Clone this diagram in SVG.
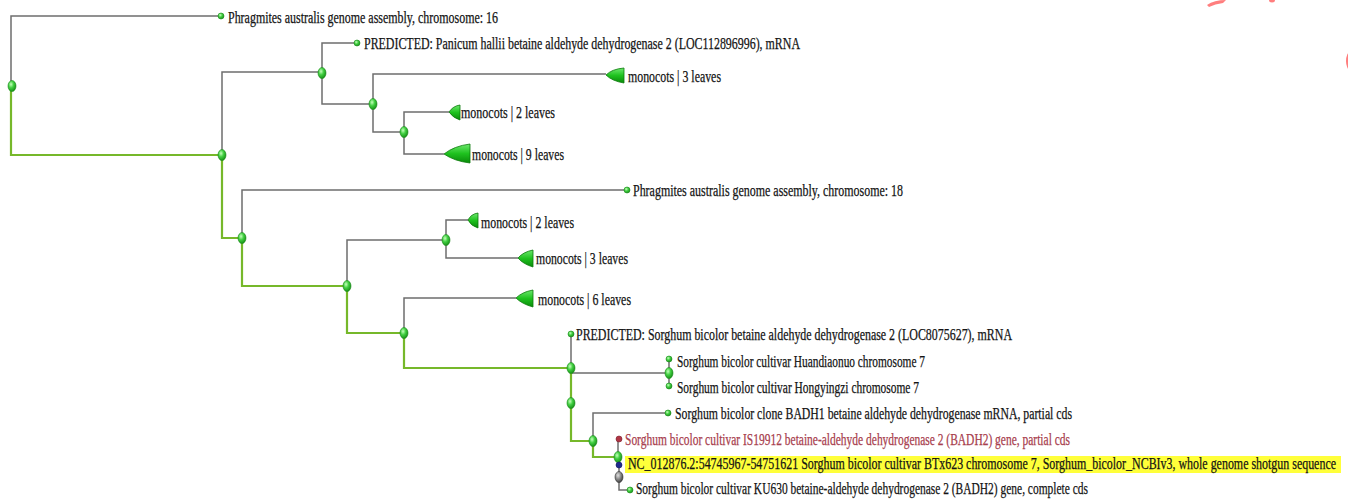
<svg xmlns="http://www.w3.org/2000/svg" width="1348" height="502" viewBox="0 0 1348 502">
<defs>
<radialGradient id="ng" cx="0.38" cy="0.35" r="0.7">
<stop offset="0" stop-color="#c6ffbc"/>
<stop offset="0.45" stop-color="#43d043"/>
<stop offset="1" stop-color="#138c13"/>
</radialGradient>
<radialGradient id="gg" cx="0.38" cy="0.35" r="0.7">
<stop offset="0" stop-color="#e0e0e0"/>
<stop offset="0.5" stop-color="#8a8a8a"/>
<stop offset="1" stop-color="#3c3c3c"/>
</radialGradient>
<linearGradient id="tg" x1="0" y1="0" x2="0" y2="1">
<stop offset="0" stop-color="#6ee86e"/>
<stop offset="0.5" stop-color="#1fc21f"/>
<stop offset="1" stop-color="#0a8a0a"/>
</linearGradient>
<style>
.g{fill:none;stroke:#6e6e6e;stroke-width:1.5}
.p{fill:none;stroke:#76b82a;stroke-width:2.2}
.n{fill:url(#ng);stroke:#1b8a1b;stroke-width:0.6}
.t{fill:url(#tg);stroke:#0b7a0b;stroke-width:0.8;stroke-linejoin:round}
text{font-family:"Liberation Serif","Times New Roman",serif;font-size:16px;fill:#141414;stroke:#141414;stroke-width:0.25}
text.r{fill:#a8404e;stroke:#a8404e}
.frag{fill:#ff7e7e}
</style>
</defs>
<g id="connectors">
<path class="g" d="M11,86 V16 H221"/>
<path class="g" d="M222,155 V72 H322"/>
<path class="g" d="M322,73 V43 H357"/>
<path class="g" d="M322,73 V104 H373"/>
<path class="g" d="M373,104 V74 H606"/>
<path class="g" d="M373,104 V132 H404"/>
<path class="g" d="M404,132 V112 H449"/>
<path class="g" d="M404,132 V154 H444"/>
<path class="g" d="M242,238 V190 H627"/>
<path class="g" d="M347,286 V240 H446"/>
<path class="g" d="M446,240 V220 H468"/>
<path class="g" d="M446,240 V258 H518"/>
<path class="g" d="M404,333 V298 H516"/>
<path class="g" d="M571,368 V334"/>
<path class="g" d="M571,403 V373 H669"/>
<path class="g" d="M669,373 V359 M669,373 V386"/>
<path class="g" d="M593,441 V413 H668"/>
<path class="g" d="M618,457 V439"/>
<path class="g" d="M619,457 V490 H630"/>
<path class="p" d="M11,86 V155 H222 V238 H242 V286 H347 V333 H404 V368 H571 V403 V441 H593 V457 H618"/>
</g>
<g id="frags">
<path class="frag" d="M1207,5 Q1214,0 1226,0 L1223,3 Q1215,4 1209,7 Z"/>
<ellipse class="frag" cx="1272" cy="0" rx="3" ry="2.5"/>
<ellipse class="frag" cx="1350" cy="61" rx="4" ry="9"/>
</g>
<g id="root"><ellipse class="n" cx="12" cy="86" rx="4" ry="5.5"/></g>
<g id="n222"><ellipse class="n" cx="222" cy="155" rx="4" ry="5.5"/></g>
<g id="n322"><ellipse class="n" cx="322" cy="73" rx="4" ry="5.5"/></g>
<g id="n373"><ellipse class="n" cx="373" cy="104" rx="4" ry="5.5"/></g>
<g id="n404a"><ellipse class="n" cx="404" cy="132" rx="4" ry="5.5"/></g>
<g id="n242"><ellipse class="n" cx="242" cy="238" rx="4" ry="5.5"/></g>
<g id="n347"><ellipse class="n" cx="347" cy="286" rx="4" ry="5.5"/></g>
<g id="n446"><ellipse class="n" cx="446" cy="240" rx="4" ry="5.5"/></g>
<g id="n404b"><ellipse class="n" cx="404" cy="333" rx="4" ry="5.5"/></g>
<g id="n571a"><ellipse class="n" cx="571" cy="368" rx="4" ry="5.5"/></g>
<g id="n571b"><ellipse class="n" cx="571" cy="403" rx="4" ry="5.5"/></g>
<g id="n669"><ellipse class="n" cx="669" cy="373" rx="4" ry="5.5"/></g>
<g id="n593"><ellipse class="n" cx="593" cy="441" rx="4" ry="5.5"/></g>
<g id="n618"><ellipse class="n" cx="618" cy="457" rx="4" ry="5.5"/></g>
<g id="n619"><ellipse cx="619" cy="477" rx="4" ry="5.5" fill="url(#gg)" stroke="#333" stroke-width="0.6"/></g>
<g id="leaf-phrag16"><circle class="n" cx="221" cy="16" r="3"/><text x="228" y="22.5" textLength="270" lengthAdjust="spacingAndGlyphs">Phragmites australis genome assembly, chromosome: 16</text></g>
<g id="leaf-panicum"><circle class="n" cx="357" cy="43" r="3"/><text x="364" y="48.5" textLength="436" lengthAdjust="spacingAndGlyphs">PREDICTED: Panicum hallii betaine aldehyde dehydrogenase 2 (LOC112896996), mRNA</text></g>
<g id="clade-m3a"><path class="t" d="M606,75 Q612,69 624,68 V83 Q612,81 606,75 Z"/><text x="628" y="81.5" textLength="93" lengthAdjust="spacingAndGlyphs">monocots | 3 leaves</text></g>
<g id="clade-m2a"><path class="t" d="M449,112 Q453,106 460,105 V120 Q453,118 449,112 Z"/><text x="461" y="117.5" textLength="94" lengthAdjust="spacingAndGlyphs">monocots | 2 leaves</text></g>
<g id="clade-m9"><path class="t" d="M444,154 Q454,146 470,144 V163 Q454,161 444,154 Z"/><text x="472" y="159.5" textLength="92" lengthAdjust="spacingAndGlyphs">monocots | 9 leaves</text></g>
<g id="leaf-phrag18"><circle class="n" cx="627" cy="190" r="3"/><text x="633" y="195.5" textLength="270" lengthAdjust="spacingAndGlyphs">Phragmites australis genome assembly, chromosome: 18</text></g>
<g id="clade-m2b"><path class="t" d="M468,220 Q471,214 478,213 V228 Q471,226 468,220 Z"/><text x="481" y="227.5" textLength="93" lengthAdjust="spacingAndGlyphs">monocots | 2 leaves</text></g>
<g id="clade-m3b"><path class="t" d="M518,258 Q523,252 533,250 V267 Q523,264 518,258 Z"/><text x="536" y="263.5" textLength="92" lengthAdjust="spacingAndGlyphs">monocots | 3 leaves</text></g>
<g id="clade-m6"><path class="t" d="M516,298 Q522,292 533,290 V307 Q522,304 516,298 Z"/><text x="538" y="304.5" textLength="93" lengthAdjust="spacingAndGlyphs">monocots | 6 leaves</text></g>
<g id="leaf-sbpred"><circle class="n" cx="571" cy="334" r="3"/><text x="576" y="339.5" textLength="436" lengthAdjust="spacingAndGlyphs">PREDICTED: Sorghum bicolor betaine aldehyde dehydrogenase 2 (LOC8075627), mRNA</text></g>
<g id="leaf-huan"><circle class="n" cx="669" cy="359" r="3"/><text x="677" y="366.5" textLength="248" lengthAdjust="spacingAndGlyphs">Sorghum bicolor cultivar Huandiaonuo chromosome 7</text></g>
<g id="leaf-hong"><circle class="n" cx="669" cy="386" r="3"/><text x="677" y="392.5" textLength="242" lengthAdjust="spacingAndGlyphs">Sorghum bicolor cultivar Hongyingzi chromosome 7</text></g>
<g id="leaf-badh1"><circle class="n" cx="668" cy="413" r="3"/><text x="675" y="418.5" textLength="397" lengthAdjust="spacingAndGlyphs">Sorghum bicolor clone BADH1 betaine aldehyde dehydrogenase mRNA, partial cds</text></g>
<g id="leaf-is19912"><circle cx="619" cy="439" r="3" fill="#b03545" stroke="#7a1f2a" stroke-width="0.6"/><text class="r" x="625" y="444.5" textLength="445" lengthAdjust="spacingAndGlyphs">Sorghum bicolor cultivar IS19912 betaine-aldehyde dehydrogenase 2 (BADH2) gene, partial cds</text></g>
<g id="leaf-nc"><rect x="625" y="456" width="716" height="17" fill="#ffff3a"/><circle cx="619" cy="465" r="3" fill="#1e2a8c" stroke="#0c1560" stroke-width="0.6"/><text x="628" y="468.5" textLength="708" lengthAdjust="spacingAndGlyphs">NC_012876.2:54745967-54751621 Sorghum bicolor cultivar BTx623 chromosome 7, Sorghum_bicolor_NCBIv3, whole genome shotgun sequence</text></g>
<g id="leaf-ku630"><circle class="n" cx="630" cy="490" r="3"/><text x="636" y="493.5" textLength="452" lengthAdjust="spacingAndGlyphs">Sorghum bicolor cultivar KU630 betaine-aldehyde dehydrogenase 2 (BADH2) gene, complete cds</text></g>
</svg>
